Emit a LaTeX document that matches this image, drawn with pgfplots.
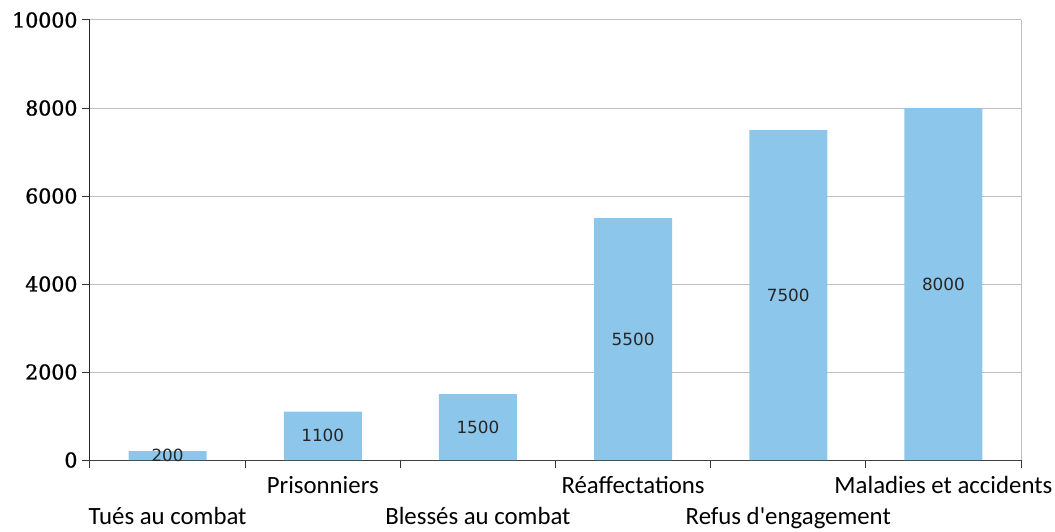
\documentclass[border=0pt]{standalone}
\usepackage{fontspec}
\setmainfont{Carlito}[Ligatures=TeXOff]
\newfontfamily\ytfont{DejaVu Serif}[FakeBold=1.2]
\newfontfamily\valfont{DejaVu Sans}
\usepackage{pgfplots}
\pgfplotsset{compat=1.18}
\definecolor{barblue}{RGB}{141,198,235}
\definecolor{gridgray}{RGB}{190,190,190}
\begin{document}
\begin{tikzpicture}[x=1pt,y=1pt]
\useasboundingbox (-90,-71) rectangle (965,460);
\begin{axis}[
  at={(0,0)}, anchor=south west,
  scale only axis, width=931pt, height=440pt,
  xmin=-0.5, xmax=5.5, ymin=0, ymax=10000,
  xtick={-0.5,0.5,1.5,2.5,3.5,4.5,5.5}, xticklabels={},
  ytick={0,2000,4000,6000,8000,10000},
  scaled y ticks=false,
  ymajorgrids, grid style={gridgray, line width=1pt},
  axis x line*=bottom, axis y line*=left,
  axis line style={-},
  x axis line style={black!75, line width=1pt},
  y axis line style={black!85, line width=1pt},
  tick align=outside, major tick length=8pt,
  tick style={black!80, line width=1pt},
  yticklabel style={font=\ytfont\fontsize{20.5}{20.5}\selectfont, text=black, xshift=-1pt},
  /pgf/number format/assume math mode=true,
  /pgf/number format/1000 sep={},
  clip=false,
]
\addplot[ybar, bar width=78pt, fill=barblue, draw=none] coordinates {
  (0,200) (1,1100) (2,1500) (3,5500) (4,7500) (5,8000)};
\addplot[only marks, mark=none, nodes near coords, point meta=explicit symbolic,
  every node near coord/.append style={anchor=center, font=\valfont\fontsize{16.8}{16.8}\selectfont, text=black!85}]
  coordinates {(0,100)[200] (1,550)[1100] (2,750)[1500] (3,2750)[5500] (4,3750)[7500] (5,4000)[8000]};
\draw[gridgray, line width=1pt] (rel axis cs:1,0) -- (rel axis cs:1,1);
\begin{scope}[every node/.style={anchor=base, font=\fontsize{24.8}{28}\selectfont, inner sep=0pt}]
\node at (axis cs:0,0) [yshift=-64pt] {Tués au combat};
\node at (axis cs:1,0) [yshift=-33pt] {Prisonniers};
\node at (axis cs:2,0) [yshift=-64pt] {Blessés au combat};
\node at (axis cs:3,0) [yshift=-33pt] {Réaffectations};
\node at (axis cs:4,0) [yshift=-64pt] {Refus d'engagement};
\node at (axis cs:5,0) [yshift=-33pt] {Maladies et accidents};
\end{scope}
\end{axis}
\end{tikzpicture}
\end{document}
